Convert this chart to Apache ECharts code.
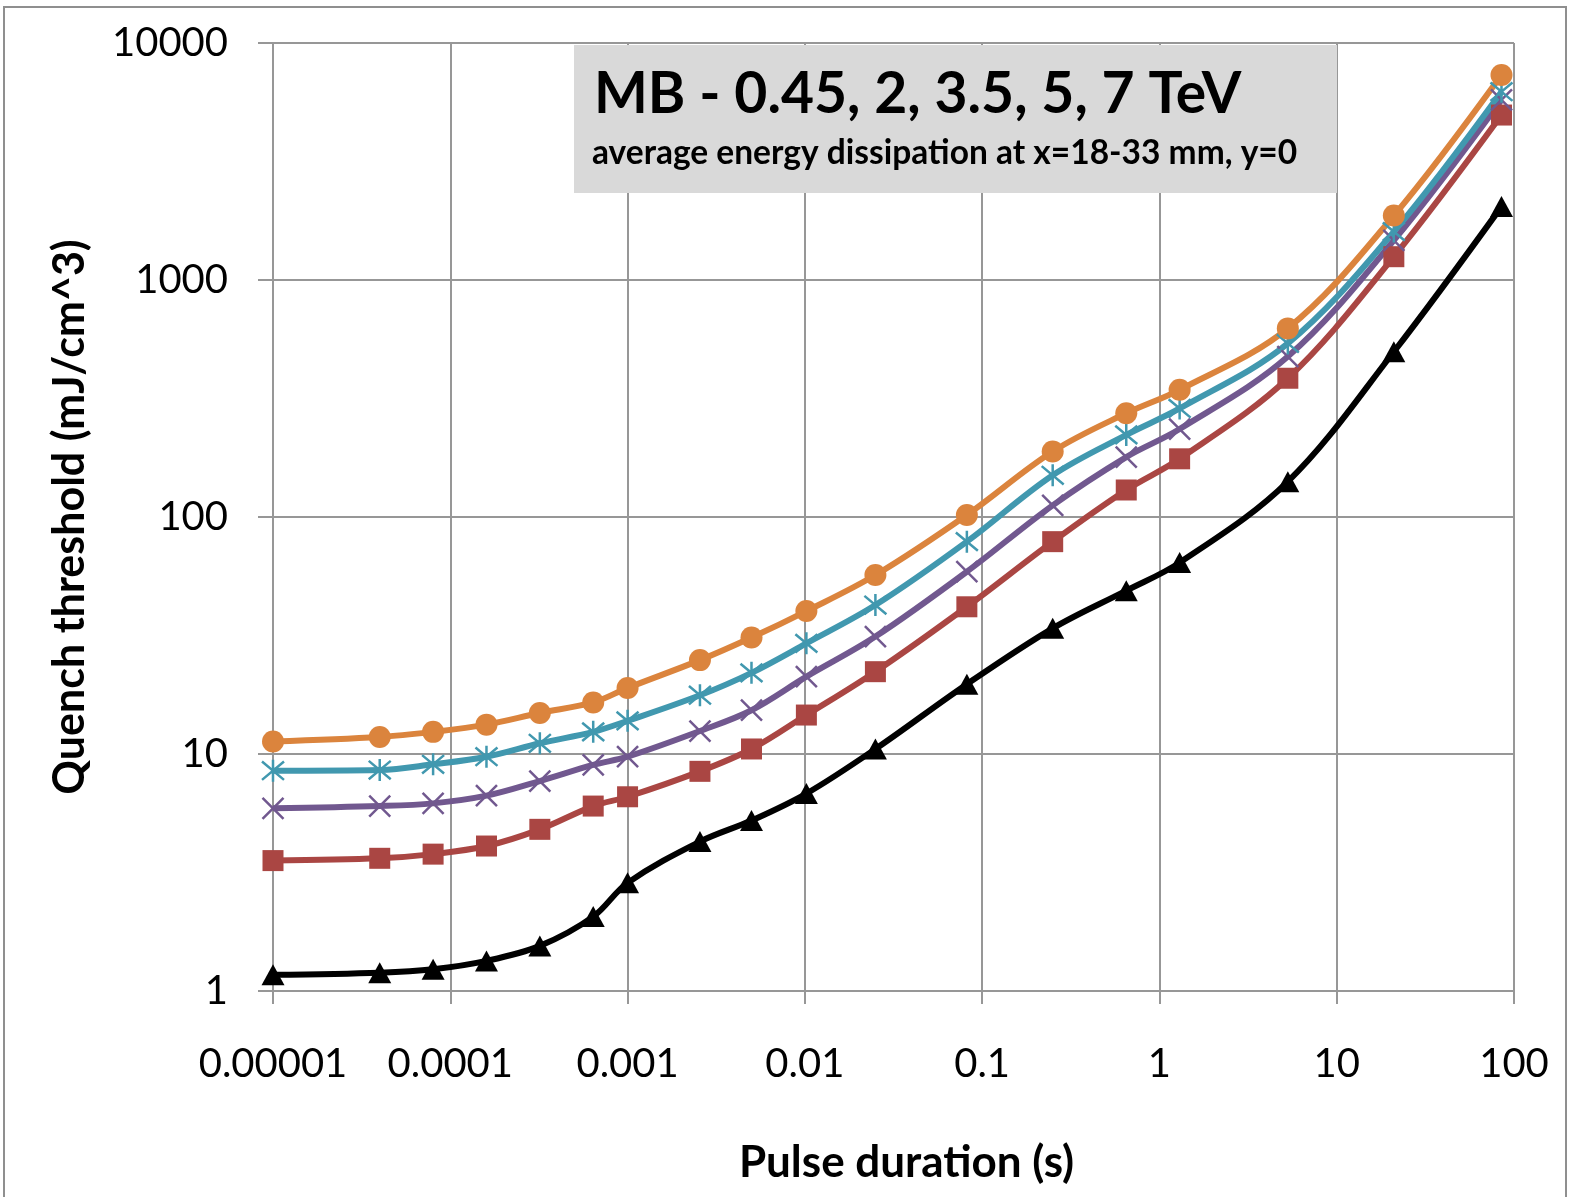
<!DOCTYPE html>
<html>
<head>
<meta charset="utf-8">
<script src="https://cdn.jsdelivr.net/npm/echarts@6/dist/echarts.min.js"></script>
<style>
  html, body { margin: 0; padding: 0; background: #ffffff; }
  #chart { width: 1575px; height: 1197px; }
</style>
</head>
<body>
<div id="chart"></div>
<script>
// Pulse duration (s)
const durations = [1e-5, 4e-5, 8e-5, 1.6e-4, 3.2e-4, 6.4e-4, 1e-3, 2.56e-3, 5e-3, 0.0102, 0.025, 0.082, 0.25, 0.65, 1.3, 5.3, 21, 85];

// Quench threshold (mJ/cm^3)
const mb045 = [11.3, 11.8, 12.4, 13.3, 14.9, 16.5, 19.0, 24.9, 31.0, 40.1, 56.9, 102, 189, 274, 344, 625, 1870, 7330];
const mb2   = [8.5, 8.56, 9.05, 9.74, 11.1, 12.4, 13.8, 17.7, 22.0, 29.3, 42.5, 78.7, 150, 222, 287, 540, 1600, 6230];
const mb35  = [5.9, 6.03, 6.19, 6.67, 7.69, 8.99, 9.74, 12.5, 15.3, 21.2, 31.3, 58.8, 112, 179, 235, 475, 1470, 5750];
const mb5   = [3.55, 3.63, 3.78, 4.09, 4.81, 6.03, 6.6, 8.45, 10.5, 14.6, 22.25, 41.8, 78.7, 130, 176, 385, 1254, 4966];
const mb7   = [1.17, 1.195, 1.235, 1.34, 1.55, 2.06, 2.86, 4.27, 5.24, 6.81, 10.5, 19.7, 33.9, 48.9, 64.2, 141, 498, 2040];

const xTickLabels = ['0.00001', '0.0001', '0.001', '0.01', '0.1', '1', '10', '100'];
const yTickLabels = ['1', '10', '100', '1000', '10000'];

const titleText = 'MB - 0.45, 2, 3.5, 5, 7 TeV';
const subtitleText = 'average energy dissipation at x=18-33 mm, y=0';
const xAxisTitle = 'Pulse duration (s)';
const yAxisTitle = 'Quench threshold (mJ/cm^3)';

const FONT = 'Lato, "Open Sans", sans-serif';
const GRID_COLOR = '#979797';

function pairs(ys) { return durations.map((x, i) => [x, ys[i]]); }

const xPath = 'path://M0,0L10,10M10,0L0,10';
const starPath = 'path://M0,0L10,10M10,0L0,10M5,-1L5,11';

function lineSeries(name, ys, color, symbol, size, stroke) {
  return {
    name: name,
    type: 'line',
    data: pairs(ys),
    smooth: 0.35,
    symbol: symbol,
    symbolSize: size,
    showAllSymbol: true,
    lineStyle: { color: color, width: 6 },
    itemStyle: stroke
      ? { color: 'none', borderColor: color, borderWidth: 2.5 }
      : { color: color, borderWidth: 0 },
    emphasis: { disabled: true },
    animation: false
  };
}

const chart = echarts.init(document.getElementById('chart'), null, { renderer: 'canvas' });

chart.setOption({
  backgroundColor: '#ffffff',
  animation: false,
  textStyle: { fontFamily: FONT },
  grid: { left: 273, top: 43, right: 61, bottom: 206, containLabel: false },
  xAxis: {
    type: 'log',
    logBase: 10,
    min: 1e-5,
    max: 100,
    name: xAxisTitle,
    nameLocation: 'middle',
    nameGap: 150,
    nameTextStyle: { fontFamily: FONT, fontWeight: 'bold', fontSize: 44, color: '#000', padding: [0, 0, 0, 26] },
    axisLine: { show: true, lineStyle: { color: GRID_COLOR, width: 2 } },
    axisTick: { show: true, inside: false, length: 13, lineStyle: { color: GRID_COLOR, width: 2 } },
    splitLine: { show: true, lineStyle: { color: GRID_COLOR, width: 2 } },
    minorTick: { show: false },
    axisLabel: {
      fontFamily: FONT, fontSize: 40, color: '#000', margin: 53,
      formatter: function (v) { return xTickLabels[Math.round(Math.log10(v)) + 5]; }
    }
  },
  yAxis: {
    type: 'log',
    logBase: 10,
    min: 1,
    max: 10000,
    name: yAxisTitle,
    nameLocation: 'middle',
    nameGap: 181,
    nameTextStyle: { fontFamily: FONT, fontWeight: 'bold', fontSize: 43, color: '#000' },
    axisLine: { show: true, lineStyle: { color: GRID_COLOR, width: 2 } },
    axisTick: { show: true, inside: false, length: 15, lineStyle: { color: GRID_COLOR, width: 2 } },
    splitLine: { show: true, lineStyle: { color: GRID_COLOR, width: 2 } },
    axisLabel: {
      fontFamily: FONT, fontSize: 40, color: '#000', margin: 45,
      formatter: function (v) { return yTickLabels[Math.round(Math.log10(v))]; }
    }
  },
  graphic: [
    {
      type: 'rect', z: -10, silent: true,
      shape: { x: 4, y: 7, width: 1562, height: 1200 },
      style: { fill: 'none', stroke: '#8f8f8f', lineWidth: 2 }
    },
    {
      type: 'rect', z: 50, silent: true,
      shape: { x: 574, y: 45, width: 763, height: 148 },
      style: { fill: '#D9D9D9' }
    },
    {
      type: 'text', z: 51, silent: true,
      x: 594, y: 95,
      style: { text: titleText, fill: '#000', font: 'bold 57px ' + FONT, textAlign: 'left', textVerticalAlign: 'middle' }
    },
    {
      type: 'text', z: 51, silent: true,
      x: 592, y: 153,
      style: { text: subtitleText, fill: '#000', font: 'bold 33.5px ' + FONT, textAlign: 'left', textVerticalAlign: 'middle' }
    }
  ],
  series: [
    lineSeries('7 TeV', mb7, '#000000', 'triangle', [23, 21], false),
    lineSeries('5 TeV', mb5, '#AA4643', 'rect', 21, false),
    lineSeries('3.5 TeV', mb35, '#71588F', xPath, 21, true),
    lineSeries('2 TeV', mb2, '#4198AF', starPath, 22, true),
    lineSeries('0.45 TeV', mb045, '#DB843D', 'circle', 22, false)
  ]
});
</script>
</body>
</html>
